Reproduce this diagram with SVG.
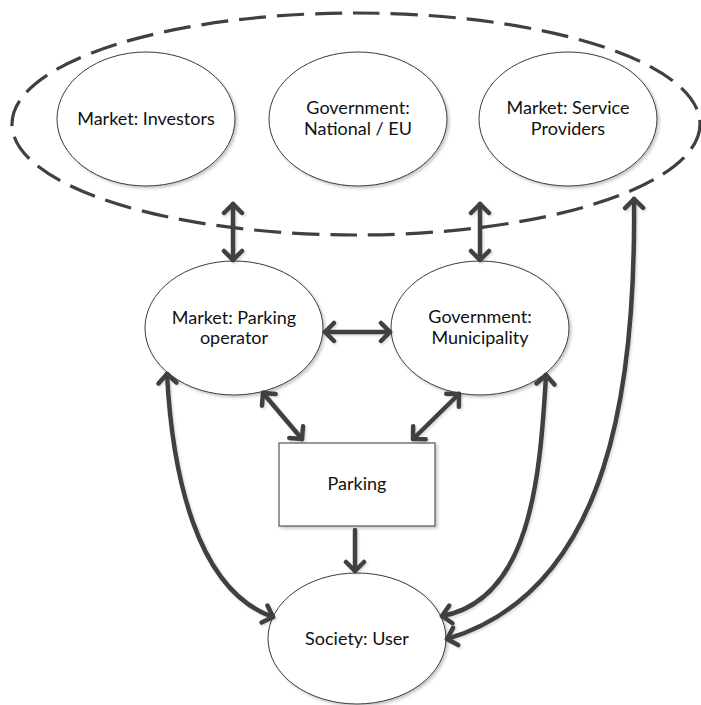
<svg xmlns="http://www.w3.org/2000/svg" width="701" height="705" viewBox="0 0 701 705">
<style>
.node{fill:#fff;stroke:#3a3a3a;stroke-width:1;filter:url(#sh)}
.box{fill:#fff;stroke:#555;stroke-width:1.2;filter:url(#sh)}
.lbl{font-family:Lato,"Liberation Sans",sans-serif;font-size:18px;fill:#111;text-anchor:middle}
.con{fill:none;stroke:#404040;stroke-width:4.5;stroke-linecap:round}
.two{marker-start:url(#ah);marker-end:url(#ah)}
.one{marker-end:url(#ah)}
.grp{fill:none;stroke:#404040;stroke-width:3.2;stroke-dasharray:27 11}
</style>
<defs>
<filter id="sh" x="-10%" y="-10%" width="125%" height="125%">
<feDropShadow dx="2" dy="2" stdDeviation="1.5" flood-color="#000" flood-opacity="0.22"/>
</filter>
<filter id="csh" x="-10%" y="-10%" width="125%" height="125%">
<feDropShadow dx="1.5" dy="1.5" stdDeviation="1" flood-color="#000" flood-opacity="0.15"/>
</filter>
<marker id="ah" markerUnits="userSpaceOnUse" viewBox="-14 -12 18 24" markerWidth="18" markerHeight="24" refX="0" refY="0" orient="auto-start-reverse">
<path d="M-9,-9 L0,0 L-9,9" fill="none" stroke="#404040" stroke-width="4.5" stroke-linecap="round" stroke-linejoin="round"/>
</marker>
</defs>

<g id="group-boundary">
<ellipse class="grp" cx="356" cy="124" rx="344" ry="111"/>
</g>

<g id="node-investors">
<ellipse class="node" cx="146" cy="119" rx="89" ry="67"/>
<text class="lbl" x="146" y="125">Market: Investors</text>
</g>
<g id="node-government-national">
<ellipse class="node" cx="358" cy="119" rx="89" ry="67"/>
<text class="lbl" x="358" y="114">Government:</text>
<text class="lbl" x="358" y="135">National / EU</text>
</g>
<g id="node-service-providers">
<ellipse class="node" cx="568" cy="119" rx="89" ry="67"/>
<text class="lbl" x="568" y="114">Market: Service</text>
<text class="lbl" x="568" y="135">Providers</text>
</g>
<g id="node-parking-operator">
<ellipse class="node" cx="234" cy="328" rx="89" ry="67"/>
<text class="lbl" x="234" y="324">Market: Parking</text>
<text class="lbl" x="234" y="344">operator</text>
</g>
<g id="node-municipality">
<ellipse class="node" cx="480" cy="328" rx="89" ry="67"/>
<text class="lbl" x="480" y="323">Government:</text>
<text class="lbl" x="480" y="344">Municipality</text>
</g>
<g id="node-parking">
<rect class="box" x="279" y="443" width="156" height="83"/>
<text class="lbl" x="357" y="490">Parking</text>
</g>
<g id="node-society-user">
<ellipse class="node" cx="357" cy="638.5" rx="89" ry="65.5"/>
<text class="lbl" x="357" y="645">Society: User</text>
</g>

<g id="connectors" filter="url(#csh)">
<path class="con two" d="M233,204 L233,260"/>
<path class="con two" d="M480,204 L480,260"/>
<path class="con two" d="M325,332 L390,332"/>
<path class="con two" d="M263,393 L302,439"/>
<path class="con two" d="M459,394 L413,439"/>
<path class="con one" d="M355,530 L355,571"/>
<path class="con two" d="M167,374 C172,470 195,590 273,617"/>
<path class="con two" d="M546,375 C540,480 530,600 442,616"/>
<path class="con two" d="M634,199 C636,380 612,590 447,639"/>
</g>
</svg>
